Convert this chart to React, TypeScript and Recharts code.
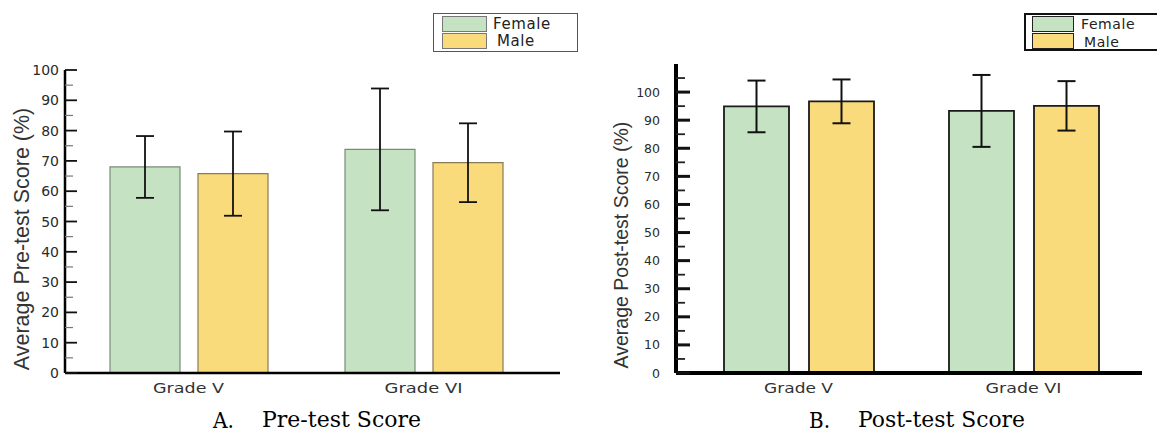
import React from 'react';
import { BarChart, Bar, XAxis, YAxis, ErrorBar, Legend } from 'recharts';

const grades = ['Grade V', 'Grade VI'];
const seriesNames = ['Female', 'Male'];

const preFemale = [68.0, 73.8];
const preFemaleErr = [10.2, 20.1];
const preMale = [65.8, 69.4];
const preMaleErr = [13.9, 13.0];

const postFemale = [94.9, 93.3];
const postFemaleErr = [9.2, 12.8];
const postMale = [96.7, 95.1];
const postMaleErr = [7.8, 8.8];

const preTicks = [0, 5, 10, 15, 20, 25, 30, 35, 40, 45, 50, 55, 60, 65, 70, 75, 80, 85, 90, 95, 100];
const postTicks = [0, 5, 10, 15, 20, 25, 30, 35, 40, 45, 50, 55, 60, 65, 70, 75, 80, 85, 90, 95, 100, 105];
const preDomain: [number, number] = [0, 100];
const postDomain: [number, number] = [0, 110];

const GREEN = '#c5e3c2';
const YELLOW = '#fadb7b';
const SANS = '"DejaVu Sans", sans-serif';
const SANS2 = '"Liberation Sans", Arial, sans-serif';
const SERIF = '"DejaVu Serif", serif';

const buildRows = (f: number[], fe: number[], m: number[], me: number[]) =>
  grades.map((g, i) => ({ grade: g, female: f[i], femaleErr: fe[i], male: m[i], maleErr: me[i] }));

const preData = buildRows(preFemale, preFemaleErr, preMale, preMaleErr);
const postData = buildRows(postFemale, postFemaleErr, postMale, postMaleErr);

type TickCfg = { major: number; minor: number; gap: number; majorW: number; minorW: number; minorColor: string; fontSize: number; maxLabel: number };

const makeYTick = (cfg: TickCfg) => (props: any) => {
  const { x, y, payload } = props;
  const v = payload.value as number;
  const isMajor = v % 10 === 0;
  return (
    <g>
      <line
        x1={x}
        x2={x + (isMajor ? cfg.major : cfg.minor)}
        y1={y}
        y2={y}
        stroke={isMajor ? '#111' : cfg.minorColor}
        strokeWidth={isMajor ? cfg.majorW : cfg.minorW}
      />
      {isMajor && v <= cfg.maxLabel && (
        <text x={x - cfg.gap} y={y} dy="0.36em" textAnchor="end" fontFamily={SANS} fontSize={cfg.fontSize} fill="#2a2a2a">
          {v}
        </text>
      )}
    </g>
  );
};

const makeXTick = (lengths: Record<string, number>) => (props: any) => {
  const { x, y, payload } = props;
  return (
    <text
      x={x}
      y={y + 20}
      textAnchor="middle"
      fontFamily={SANS}
      fontSize={14}
      fill="#333"
      textLength={lengths[payload.value]}
      lengthAdjust="spacingAndGlyphs"
    >
      {payload.value}
    </text>
  );
};

type LegendCfg = { w: number; h: number; border: string; swX: number; swW: number; swY: number[]; swH: number; txtX: number[]; txtY: number[]; fontSize: number; swStroke: string };

const makeLegend = (cfg: LegendCfg) => () => (
  <div
    style={{
      position: 'relative',
      width: cfg.w,
      height: cfg.h,
      border: cfg.border,
      boxSizing: 'border-box',
      background: '#fff',
    }}
  >
    {seriesNames.map((name, i) => (
      <React.Fragment key={name}>
        <div
          style={{
            position: 'absolute',
            left: cfg.swX,
            top: cfg.swY[i],
            width: cfg.swW,
            height: cfg.swH,
            background: i === 0 ? GREEN : YELLOW,
            border: cfg.swStroke,
            boxSizing: 'border-box',
          }}
        />
        <div
          style={{
            position: 'absolute',
            left: cfg.txtX[i],
            top: cfg.txtY[i],
            fontFamily: SANS,
            fontSize: cfg.fontSize,
            lineHeight: '1',
            color: '#222',
            letterSpacing: 0.6,
            whiteSpace: 'nowrap',
          }}
        >
          {name}
        </div>
      </React.Fragment>
    ))}
  </div>
);

const yTitle = (label: string, cx: number, cy: number, size: number) => () => (
  <text
    x={cx}
    y={cy}
    transform={`rotate(-90 ${cx} ${cy})`}
    textAnchor="middle"
    dominantBaseline="central"
    fontFamily={SANS2}
    fontSize={size}
    fill="#333"
  >
    {label}
  </text>
);

const PreChart = () => (
  <BarChart
    width={580}
    height={432}
    data={preData}
    margin={{ top: 70, right: 20, bottom: 0, left: 0 }}
    barSize={70}
    barGap={18}
  >
    <XAxis
      dataKey="grade"
      height={59}
      padding={{ left: 6, right: 19 }}
      axisLine={{ stroke: '#000', strokeWidth: 2.5 }}
      tickLine={false}
      tickSize={0}
      tickMargin={0}
      tick={makeXTick({ 'Grade V': 71, 'Grade VI': 78 })}
    />
    <YAxis
      width={65}
      domain={preDomain}
      ticks={preTicks}
      interval={0}
      axisLine={{ stroke: '#000', strokeWidth: 2.5 }}
      tickLine={false}
      tickSize={0}
      tickMargin={0}
      tick={makeYTick({ major: 12, minor: 8, gap: 6, majorW: 1.8, minorW: 1.2, minorColor: '#777', fontSize: 14, maxLabel: 100 })}
      label={{ content: yTitle('Average Pre-test Score (%)', 22, 239, 21.5) }}
    />
    <Legend
      layout="horizontal"
      verticalAlign="middle"
      align="center"
      wrapperStyle={{ left: 433, top: 13, width: 145, height: 39 }}
      content={makeLegend({
        w: 145,
        h: 39,
        border: '1.5px solid #555',
        swX: 8,
        swW: 45,
        swY: [2, 19],
        swH: 16,
        txtX: [59, 63],
        txtY: [3, 20],
        fontSize: 15,
        swStroke: '1px solid #777',
      })}
    />
    <Bar dataKey="female" name={seriesNames[0]} fill={GREEN} stroke="#7a8a78" strokeWidth={1.2} isAnimationActive={false}>
      <ErrorBar dataKey="femaleErr" width={9} stroke="#111" strokeWidth={1.8} isAnimationActive={false} />
    </Bar>
    <Bar dataKey="male" name={seriesNames[1]} fill={YELLOW} stroke="#8a7a55" strokeWidth={1.2} isAnimationActive={false}>
      <ErrorBar dataKey="maleErr" width={9} stroke="#111" strokeWidth={1.8} isAnimationActive={false} />
    </Bar>
  </BarChart>
);

const PostChart = () => (
  <BarChart
    width={577}
    height={432}
    data={postData}
    margin={{ top: 64, right: 15, bottom: 0, left: 0 }}
    barSize={65}
    barGap={20}
  >
    <XAxis
      dataKey="grade"
      height={59}
      padding={{ left: 10, right: 6 }}
      axisLine={{ stroke: '#000', strokeWidth: 4 }}
      tickLine={false}
      tickSize={0}
      tickMargin={0}
      tick={makeXTick({ 'Grade V': 69, 'Grade VI': 76 })}
    />
    <YAxis
      width={96}
      domain={postDomain}
      ticks={postTicks}
      interval={0}
      axisLine={{ stroke: '#000', strokeWidth: 4 }}
      tickLine={false}
      tickSize={0}
      tickMargin={0}
      tick={makeYTick({ major: 14, minor: 9, gap: 16, majorW: 3, minorW: 1.8, minorColor: '#222', fontSize: 12.5, maxLabel: 100 })}
      label={{ content: yTitle('Average Post-test Score (%)', 41, 245, 19.5) }}
    />
    <Legend
      layout="horizontal"
      verticalAlign="middle"
      align="center"
      wrapperStyle={{ left: 444, top: 13, width: 150, height: 38 }}
      content={makeLegend({
        w: 150,
        h: 38,
        border: '2px solid #111',
        swX: 6,
        swW: 42,
        swY: [1, 18],
        swH: 16,
        txtX: [55, 58],
        txtY: [2, 20],
        fontSize: 14,
        swStroke: '1.5px solid #222',
      })}
    />
    <Bar dataKey="female" name={seriesNames[0]} fill={GREEN} stroke="#1a1a1a" strokeWidth={1.8} isAnimationActive={false}>
      <ErrorBar dataKey="femaleErr" width={9} stroke="#111" strokeWidth={2} isAnimationActive={false} />
    </Bar>
    <Bar dataKey="male" name={seriesNames[1]} fill={YELLOW} stroke="#1a1a1a" strokeWidth={1.8} isAnimationActive={false}>
      <ErrorBar dataKey="maleErr" width={9} stroke="#111" strokeWidth={2} isAnimationActive={false} />
    </Bar>
  </BarChart>
);

export default function App() {
  return (
    <div
      style={{
        position: 'absolute',
        left: 0,
        top: 0,
        width: 1157,
        height: 432,
        overflow: 'hidden',
        background: '#fff',
      }}
    >
      <div style={{ position: 'absolute', left: 0, top: 0, width: 580, height: 432 }}>
        <PreChart />
      </div>
      <div style={{ position: 'absolute', left: 580, top: 0, width: 577, height: 432, overflow: 'hidden' }}>
        <PostChart />
      </div>
      <svg
        width={1157}
        height={432}
        style={{ position: 'absolute', left: 0, top: 0, pointerEvents: 'none' }}
      >
        <text x={213} y={428} fontFamily={SERIF} fontSize={23} fill="#000" textLength={21} lengthAdjust="spacingAndGlyphs">A.</text>
        <text x={262} y={427} fontFamily={SERIF} fontSize={23} fill="#000" textLength={159} lengthAdjust="spacingAndGlyphs">Pre-test Score</text>
        <text x={809} y={428} fontFamily={SERIF} fontSize={23} fill="#000" textLength={21} lengthAdjust="spacingAndGlyphs">B.</text>
        <text x={858} y={427} fontFamily={SERIF} fontSize={23} fill="#000" textLength={167} lengthAdjust="spacingAndGlyphs">Post-test Score</text>
      </svg>
    </div>
  );
}
